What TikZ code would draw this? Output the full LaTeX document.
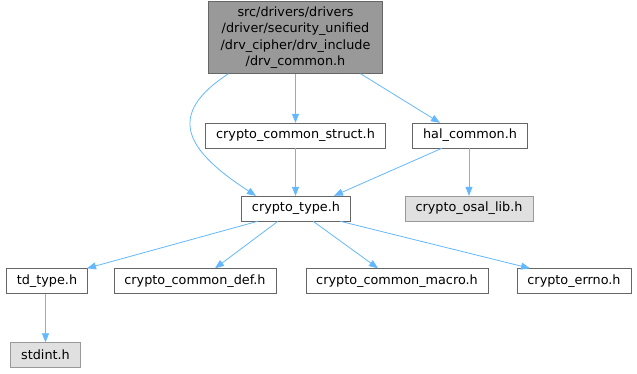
\documentclass[tikz,border=0pt]{standalone}
\usepackage{fontspec}
\setmainfont{DejaVu Sans}
\usepackage{tikz}
\usetikzlibrary{arrows.meta, positioning}
\definecolor{edgeblue}{HTML}{63B8FF}
\definecolor{boxline}{HTML}{666666}
\definecolor{rootfill}{HTML}{999999}
\definecolor{extfill}{HTML}{E0E0E0}

\begin{document}
\begin{tikzpicture}[
    x=1pt, y=1pt,
    hdr/.style={rectangle, draw=boxline, fill=white, minimum height=25pt, inner xsep=10.5pt, inner ysep=2pt,
                font=\fontsize{12.8}{16.5}\selectfont},
    roothdr/.style={hdr, fill=rootfill, align=center, minimum width=174pt, minimum height=72pt},
    exthdr/.style={hdr, draw=rootfill, fill=extfill},
    edge/.style={-{Triangle[length=9pt, width=7pt]}, edgeblue, line width=0.8pt}
]
\useasboundingbox (0,0) rectangle (637,-373);

\node[roothdr] (root) at (295.5,-37.5) {src/drivers/drivers\\/driver/security\_unified\\/drv\_cipher/drv\_include\\/drv\_common.h};
\node[hdr] (struct) at (295.5,-135.5) {crypto\_common\_struct.h};
\node[hdr] (hal) at (470,-135.5) {hal\_common.h};
\node[hdr] (type) at (296,-208.5) {crypto\_type.h};
\node[exthdr] (osal) at (469,-208.5) {crypto\_osal\_lib.h};
\node[hdr] (tdtype) at (47,-281) {td\_type.h};
\node[hdr] (def) at (195,-281) {crypto\_common\_def.h};
\node[hdr] (macro) at (397,-281) {crypto\_common\_macro.h};
\node[hdr] (errno) at (574,-281) {crypto\_errno.h};
\node[exthdr] (stdint) at (45.5,-355) {stdint.h};

\draw[edge] ([xshift=-67pt]root.south) .. controls +(-63,-41) and +(-71,46) .. ([xshift=-40pt]type.north);
\draw[edge] (root) -- (struct);
\draw[edge] ([xshift=65pt]root.south) -- ([xshift=-30pt]hal.north);
\draw[edge] (struct) -- ([xshift=-0.5pt]type.north);
\draw[edge] ([xshift=-28pt]hal.south) -- ([xshift=38pt]type.north);
\draw[edge] ([xshift=-1pt]hal.south) -- (osal);
\draw[edge] ([xshift=-38pt]type.south) -- ([xshift=40pt]tdtype.north);
\draw[edge] ([xshift=-18pt]type.south) -- ([xshift=20pt]def.north);
\draw[edge] ([xshift=17pt]type.south) -- ([xshift=-19pt]macro.north);
\draw[edge] ([xshift=44pt]type.south) -- ([xshift=-44pt]errno.north);
\draw[edge] ([xshift=-1.5pt]tdtype.south) -- (stdint);
\end{tikzpicture}
\end{document}
